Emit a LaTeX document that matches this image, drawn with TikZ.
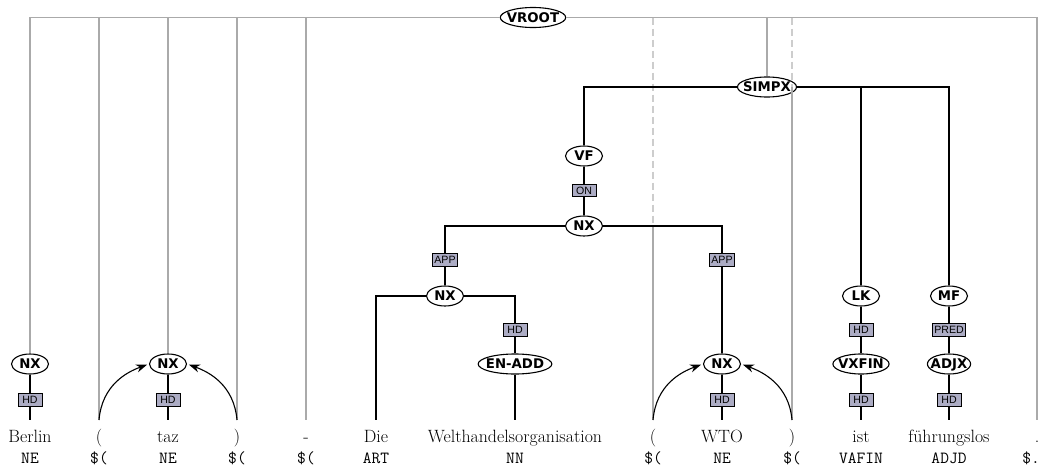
\documentclass[tikz,border=0pt]{standalone}
\usepackage{fontspec}
\newfontfamily\catfont{DejaVu Sans}
\newfontfamily\edgefont{Liberation Sans}
\usetikzlibrary{shapes.geometric,arrows.meta}
\definecolor{labfill}{RGB}{172,172,196}
\definecolor{vgray}{RGB}{170,170,170}
\definecolor{vlight}{RGB}{205,205,205}
\begin{document}
\begin{tikzpicture}[x=1pt,y=-1pt,
  cat/.style={ellipse, draw, line width=1.1pt, fill=white,
    font=\catfont\bfseries\fontsize{13.3}{14}\selectfont,
    text height=9.6pt, text depth=0pt, inner xsep=-3pt, inner ysep=2pt,
    minimum width=37pt, minimum height=20pt},
  elab/.style={rectangle, draw, line width=0.9pt, fill=labfill,
    font=\edgefont\fontsize{10.6}{11}\selectfont,
    text height=7.6pt, text depth=0pt, inner xsep=1.5pt, inner ysep=2.3pt,
    minimum width=24pt},
  word/.style={font=\fontsize{17.8}{20}\selectfont, text height=12.5pt,
    text depth=4pt, inner xsep=0pt, inner ysep=9.5pt, anchor=north},
  tag/.style={font=\ttfamily\fontsize{17}{18}\selectfont, anchor=base, inner sep=0pt},
  tree/.style={line width=1.3pt, black},
  vedge/.style={line width=1.3pt, draw=vgray},
  vdash/.style={line width=1.3pt, draw=vlight, dash pattern=on 7pt off 4pt},
  sec/.style={line width=1.1pt, -{Stealth[length=11pt,width=8pt]}, shorten >=2pt}
]
\useasboundingbox (0,0) rectangle (1042,471);

% tokens: words
\node[word] (w1)  at (30,420)   {Berlin};
\node[word] (w2)  at (99,420)   {(};
\node[word] (w3)  at (168,420)  {taz};
\node[word] (w4)  at (237,420)  {)};
\node[word] (w5)  at (306,420)  {-};
\node[word] (w6)  at (376,420)  {Die};
\node[word] (w7)  at (515,420)  {Welthandelsorganisation};
\node[word] (w8)  at (653,420)  {(};
\node[word] (w9)  at (722,420)  {WTO};
\node[word] (w10) at (792,420)  {)};
\node[word] (w11) at (861,420)  {ist};
\node[word] (w12) at (949,420)  {führungslos};
\node[word] (w13) at (1037,420) {.};

% tokens: part-of-speech tags
\node[tag] (p1)  at (30,463)   {NE};
\node[tag] (p2)  at (99,463)   {\$(};
\node[tag] (p3)  at (168,463)  {NE};
\node[tag] (p4)  at (237,463)  {\$(};
\node[tag] (p5)  at (306,463)  {\$(};
\node[tag] (p6)  at (376,463)  {ART};
\node[tag] (p7)  at (515,463)  {NN};
\node[tag] (p8)  at (653,463)  {\$(};
\node[tag] (p9)  at (722,463)  {NE};
\node[tag] (p10) at (792,463)  {\$(};
\node[tag] (p11) at (861,463)  {VAFIN};
\node[tag] (p12) at (949,463)  {ADJD};
\node[tag] (p13) at (1031,463) {\$.};

% phrase nodes
\node[cat] (vroot) at (533,17.5) {VROOT};
\node[cat] (simpx) at (767,87)   {SIMPX};
\node[cat] (vf)    at (584,156)  {VF};
\node[elab] (on)   at (584,190.5) {ON};
\node[cat] (nx2)   at (584,226)  {NX};
\node[elab] (app1) at (445,260)  {APP};
\node[cat] (nx3)   at (445,296)  {NX};
\node[elab] (hd3)  at (515,330)  {HD};
\node[cat] (enadd) at (515,364)  {EN-ADD};
\node[elab] (app2) at (722,260)  {APP};
\node[cat] (nxw)   at (722,364)  {NX};
\node[elab] (hdw)  at (722,400)  {HD};
\node[cat] (lk)    at (861,296)  {LK};
\node[elab] (hdlk) at (861,330)  {HD};
\node[cat] (vxfin) at (861,364)  {VXFIN};
\node[elab] (hdv)  at (861,400)  {HD};
\node[cat] (mf)    at (949,296)  {MF};
\node[elab] (pred) at (949,330)  {PRED};
\node[cat] (adjx)  at (949,364)  {ADJX};
\node[elab] (hda)  at (949,400)  {HD};
\node[cat] (nx1)   at (30,364)   {NX};
\node[elab] (hd1)  at (30,400)   {HD};
\node[cat] (nxt)   at (168,364)  {NX};
\node[elab] (hdt)  at (168,400)  {HD};

% edges below the virtual root
\draw[vedge] (vroot.west) -| (nx1.north);
\draw[vedge] (vroot.west) -| (w2.north);
\draw[vedge] (vroot.west) -| (nxt.north);
\draw[vedge] (vroot.west) -| (w4.north);
\draw[vedge] (vroot.west) -| (w5.north);
\draw[vedge] (vroot.east) -| (simpx.north);
\draw[vedge] (vroot.east) -| (w13.north);
\draw[vdash] (w8.north |- vroot) -- (w8.north |- nx2);
\draw[vedge] (w8.north |- nx2) -- (w8.north);
\draw[vdash] (w10.north |- vroot) -- (w10.north |- simpx);
\draw[vedge] (w10.north |- simpx) -- (w10.north);

% the clause
\draw[tree] (simpx.west) -| (vf.north);
\draw[tree] (simpx.east) -| (lk.north);
\draw[tree] (simpx.east) -| (mf.north);
\draw[tree] (vf) -- (on) -- (nx2);
\draw[tree] (nx2.west) -| (app1.north);
\draw[tree] (app1) -- (nx3);
\draw[tree] (nx2.east) -| (app2.north);
\draw[tree] (app2) -- (nxw);
\draw[tree] (nx3.west) -| (w6.north);
\draw[tree] (nx3.east) -| (hd3.north);
\draw[tree] (hd3) -- (enadd);
\draw[tree] (enadd) -- (w7.north);
\draw[tree] (nxw) -- (hdw);
\draw[tree] (hdw) -- (w9.north);
\draw[tree] (lk) -- (hdlk) -- (vxfin) -- (hdv);
\draw[tree] (hdv) -- (w11.north);
\draw[tree] (mf) -- (pred) -- (adjx) -- (hda);
\draw[tree] (hda) -- (w12.north);
\draw[tree] (nx1) -- (hd1);
\draw[tree] (hd1) -- (w1.north);
\draw[tree] (nxt) -- (hdt);
\draw[tree] (hdt) -- (w3.north);

% secondary edges from the brackets
\draw[sec] (w2.north) .. controls +(3,-35) and +(-22,8) .. (nxt.west);
\draw[sec] (w4.north) .. controls +(-3,-35) and +(22,8) .. (nxt.east);
\draw[sec] (w8.north) .. controls +(3,-35) and +(-22,8) .. (nxw.west);
\draw[sec] (w10.north) .. controls +(-3,-35) and +(22,8) .. (nxw.east);
\end{tikzpicture}
\end{document}
